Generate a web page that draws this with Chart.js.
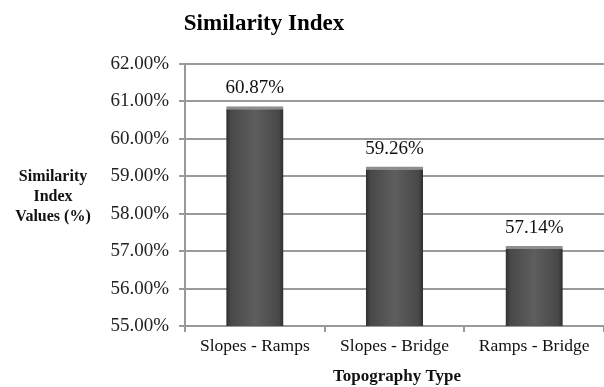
<!DOCTYPE html>
<html>
<head>
<meta charset="utf-8">
<script src="https://cdn.jsdelivr.net/npm/chart.js@4/dist/chart.umd.min.js"></script>
<style>
html,body{margin:0;padding:0;background:#fff;}
#wrap{width:604px;height:387px;position:relative;}
</style>
</head>
<body>
<div id="wrap"><canvas id="c" width="604" height="387"></canvas></div>
<script>
const categories = ["Slopes - Ramps", "Slopes - Bridge", "Ramps - Bridge"];
const similarityValues = [60.87, 59.26, 57.14];
const yTickMin = 55;
const yTickMax = 62;
const chartTitle = "Similarity Index";
const yAxisTitleLines = ["Similarity", "Index", "Values (%)"];
const xAxisTitle = "Topography Type";

const SERIF = "'Liberation Serif', 'Times New Roman', serif";

function barFill(ctx) {
  const chart = ctx.chart;
  const xs = chart.scales && chart.scales.x;
  if (!xs || !chart.chartArea) return '#555555';
  const cx = xs.getPixelForValue(ctx.dataIndex);
  const w = (xs.width / categories.length) * 0.41;
  const g = chart.ctx.createLinearGradient(cx - w / 2, 0, cx + w / 2, 0);
  g.addColorStop(0, '#2e2e2e');
  g.addColorStop(0.08, '#484848');
  g.addColorStop(0.5, '#5e5e5e');
  g.addColorStop(0.92, '#484848');
  g.addColorStop(1, '#2e2e2e');
  return g;
}

const textPlugin = {
  id: 'texts',
  afterDraw(chart) {
    const c = chart.ctx;
    c.save();
    c.fillStyle = '#000';
    c.font = "bold 23px " + SERIF;
    c.textAlign = 'center';
    c.textBaseline = 'middle';
    c.fillText(chartTitle, 264, 24);
    c.font = "bold 16px " + SERIF;
    c.fillStyle = '#111';
    yAxisTitleLines.forEach((t, i) => c.fillText(t, 53, 177 + i * 20));
    c.font = "bold 17px " + SERIF;
    c.fillText(xAxisTitle, 397, 377);
    const meta = chart.getDatasetMeta(0);
    c.font = "19px " + SERIF;
    c.fillStyle = '#111';
    c.textBaseline = 'alphabetic';
    meta.data.forEach((bar, i) => {
      c.fillText(similarityValues[i].toFixed(2) + '%', bar.x, bar.y - 13);
    });
    c.restore();
  }
};

new Chart(document.getElementById('c'), {
  type: 'bar',
  data: {
    labels: categories,
    datasets: [{
      data: similarityValues,
      backgroundColor: barFill,
      borderColor: '#8e8e8e',
      borderWidth: {top: 3, left: 0, right: 0, bottom: 0},
      borderSkipped: 'bottom',
      categoryPercentage: 1,
      barPercentage: 0.41
    }]
  },
  options: {
    responsive: false,
    animation: false,
    layout: {padding: {top: 64, left: 0, right: 0, bottom: 0}},
    plugins: {legend: {display: false}, tooltip: {enabled: false}, title: {display: false}},
    scales: {
      x: {
        grid: {offset: true, drawOnChartArea: false, drawTicks: true, tickLength: 6, color: '#999', lineWidth: 2},
        border: {color: '#999', width: 2},
        ticks: {color: '#111', font: {family: SERIF, size: 17.5}, padding: 4, maxRotation: 0},
        afterFit(scale) { scale.height = 61; }
      },
      y: {
        min: yTickMin,
        max: yTickMax,
        grid: {color: '#9a9a9a', lineWidth: 2, tickLength: 6},
        border: {color: '#999', width: 2},
        ticks: {
          stepSize: 1,
          color: '#222',
          padding: 10,
          font: {family: SERIF, size: 19},
          callback: v => v.toFixed(2) + '%'
        },
        afterFit(scale) { scale.width = 185; }
      }
    }
  },
  plugins: [textPlugin]
});
</script>
</body>
</html>
